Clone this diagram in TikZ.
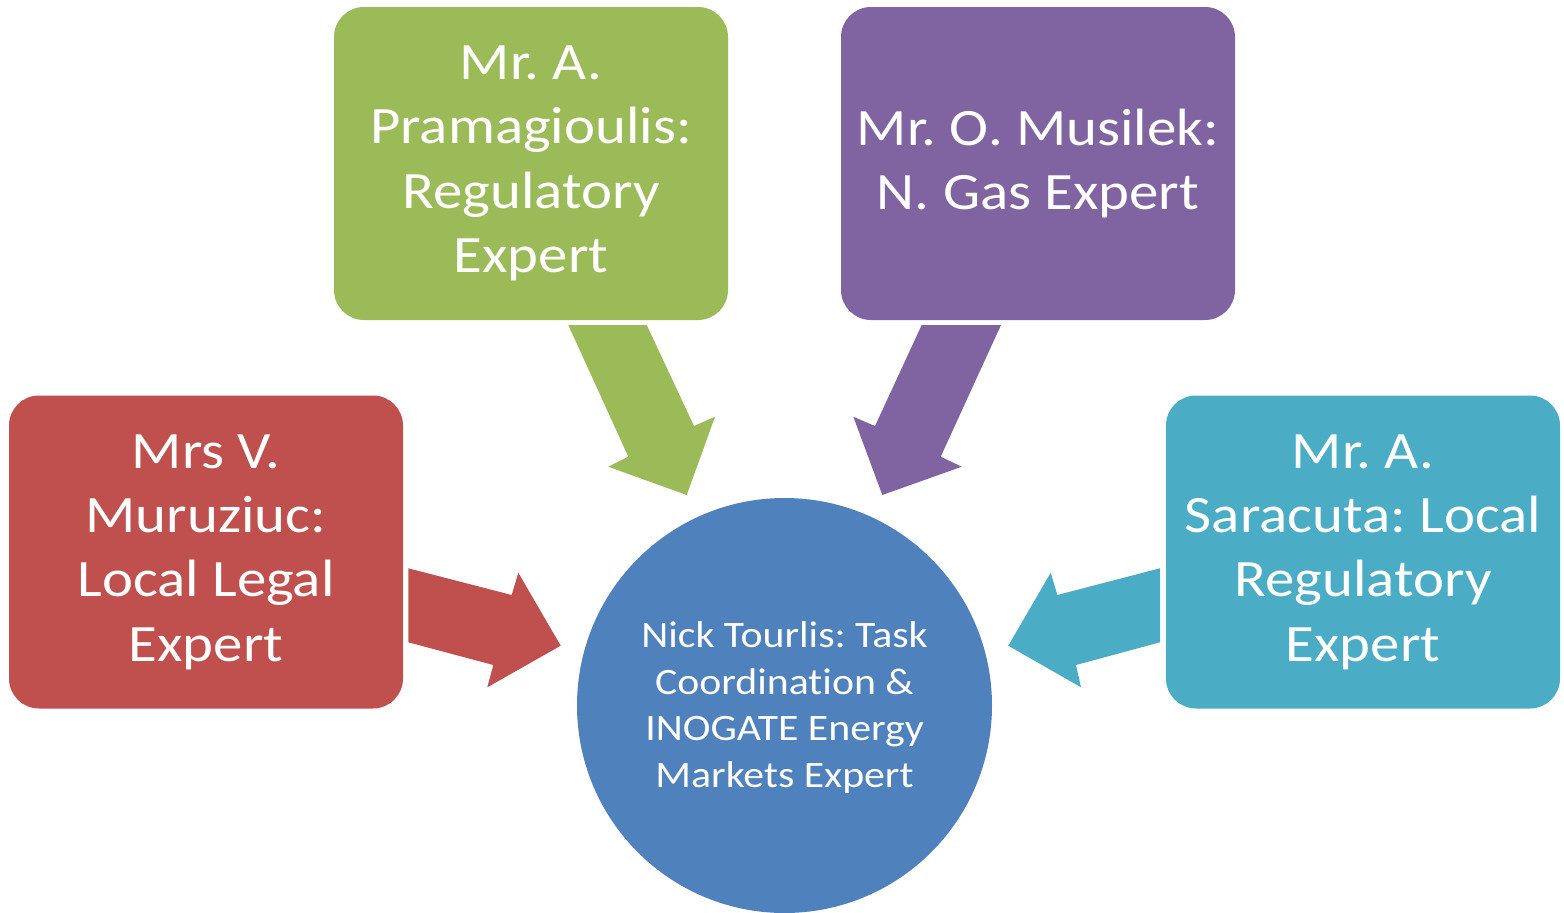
\documentclass[tikz,border=0pt]{standalone}
\usepackage{fontspec}
\setmainfont{Carlito}[FakeStretch=1.12, Ligatures=NoCommon]
\definecolor{cred}{HTML}{C0504D}
\definecolor{cgreen}{HTML}{9BBB59}
\definecolor{cpurple}{HTML}{8064A2}
\definecolor{cteal}{HTML}{4BACC6}
\definecolor{cblue}{HTML}{4F81BD}
\tikzset{
  expertbox/.style={rounded corners=30pt, minimum width=394pt, minimum height=313pt, inner sep=0pt,
    text=white, align=center, font=\frenchspacing\fontsize{52.5}{64.4}\selectfont},
  hubcircle/.style={circle, minimum size=415pt, inner sep=0pt, fill=cblue},
  hubtextstyle/.style={text=white, align=center, font=\frenchspacing\fontsize{37.3}{46.8}\selectfont},
  blockarrow/.style={draw=none}
}
\begin{document}
\begin{tikzpicture}[x=1pt,y=-1pt]
\useasboundingbox (0,0) rectangle (1564,913);
% boxes
\node[expertbox, fill=cgreen] (green) at (531,163.5) {Mr. A.\\Pramagioulis:\\Regulatory\\Expert};
\node[expertbox, fill=cpurple] (purple) at (1038,163.5) {Mr. O. Musilek:\\N. Gas Expert};
\node[expertbox, fill=cred] (red) at (206,552) {Mrs V.\\Muruziuc:\\Local Legal\\Expert};
\node[expertbox, fill=cteal] (teal) at (1363,552) {Mr. A.\\Saracuta: Local\\Regulatory\\Expert};
\node[hubcircle] (hub) at (784.5,705.5) {};
\node[hubtextstyle] (hubtext) at (784.5,707.5) {Nick Tourlis: Task\\Coordination \&\\INOGATE Energy\\Markets Expert};
% block arrows
\fill[cred, blockarrow] (408.3,568.3) -- (511.7,595) -- (518.3,572.7) -- (560.7,645.7)
  -- (487.3,687.3) -- (493.3,665) -- (408.3,642.3) -- cycle;
\fill[cteal, blockarrow] (1160,568.3) -- (1057.3,595) -- (1050.7,572.7) -- (1008.3,645.7)
  -- (1081,687.3) -- (1076,665) -- (1160,642.3) -- cycle;
\fill[cgreen, blockarrow] (568.3,325) -- (646.7,325) -- (694,426) -- (715,416.7)
  -- (686.7,495) -- (608.3,466.7) -- (628.3,456.7) -- cycle;
\fill[cpurple, blockarrow] (1001,325) -- (921.7,325) -- (875,426) -- (853.3,416.7)
  -- (882.3,495) -- (961.7,466.7) -- (940.7,456.7) -- cycle;
\end{tikzpicture}
\end{document}
